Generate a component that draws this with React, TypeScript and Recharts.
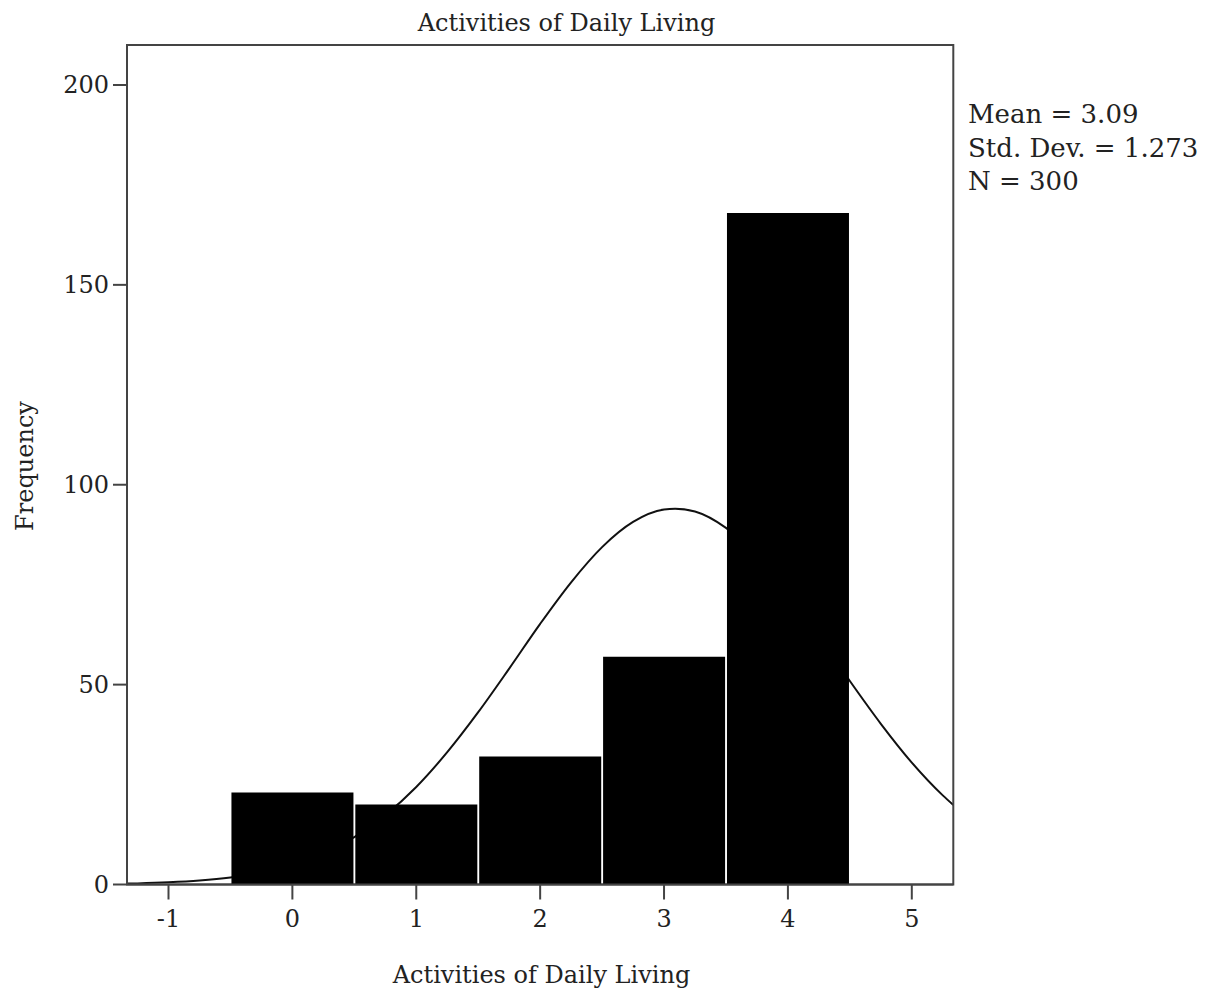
import React from 'react';
import { ComposedChart, Bar, Area, XAxis, YAxis, ReferenceArea } from 'recharts';

const binCenters = [0, 1, 2, 3, 4];
const frequencies = [23, 20, 32, 57, 168];

const curveX = [-1.335, -1.25, -1, -0.75, -0.5, -0.25, 0, 0.25, 0.5, 0.75, 1, 1.25, 1.5, 1.75, 2, 2.25, 2.5, 2.75, 3, 3.09, 3.25, 3.5, 3.75, 4, 4.25, 4.5, 4.75, 5, 5.25, 5.335];
const curveY = [0.22, 0.28, 0.54, 0.99, 1.76, 3.01, 4.94, 7.8, 11.86, 17.35, 24.4, 33.1, 43.1, 54.0, 65.2, 75.6, 84.4, 90.7, 93.8, 94.0, 93.3, 89.2, 82.2, 72.8, 62.1, 50.9, 40.2, 30.5, 22.3, 19.9];

const xTicks = [-1, 0, 1, 2, 3, 4, 5];
const yTicks = [0, 50, 100, 150, 200];
const statLines = ['Mean = 3.09', 'Std. Dev. = 1.273', 'N = 300'];
const titleText = 'Activities of Daily Living';
const xLabel = 'Activities of Daily Living';
const yLabel = 'Frequency';

const X_MIN = -1.335;
const X_MAX = 5.335;
const Y_MAX = 210;

const barData = binCenters.map((x, i) => ({ x, freq: frequencies[i] }));
const curveData = curveX.map((x, i) => ({ x, curve: curveY[i] }));

const FONT = '"DejaVu Serif", "Liberation Serif", serif';
const AXIS = '#444';
const TEXT = '#222';

export default function App() {
  const W = 1220;
  const H = 996;
  return (
    <div style={{ position: 'relative', left: -8, top: -8, width: W, height: H, background: '#fff' }}>
      <ComposedChart
        width={W}
        height={H}
        data={barData}
        margin={{ top: 45, right: 266.7, bottom: 51.5, left: 27 }}
      >
        <XAxis
          dataKey="x"
          type="number"
          domain={[X_MIN, X_MAX]}
          allowDataOverflow
          ticks={xTicks}
          tickFormatter={(v: number) => String(v)}
          height={60}
          tickSize={15}
          tickMargin={10}
          axisLine={{ stroke: AXIS, strokeWidth: 2 }}
          tickLine={{ stroke: AXIS, strokeWidth: 2 }}
          tick={{ fill: TEXT, fontSize: 24, fontFamily: FONT }}
          interval={0}
        />
        <XAxis
          xAxisId="curve"
          dataKey="x"
          type="number"
          domain={[X_MIN, X_MAX]}
          allowDataOverflow
          hide
        />
        <YAxis
          type="number"
          domain={[0, Y_MAX]}
          allowDataOverflow
          ticks={yTicks}
          width={100}
          tickSize={14}
          tickMargin={4}
          axisLine={{ stroke: AXIS, strokeWidth: 2 }}
          tickLine={{ stroke: AXIS, strokeWidth: 2 }}
          tick={{ fill: TEXT, fontSize: 24, fontFamily: FONT }}
          interval={0}
        />
        <Area
          xAxisId="curve"
          data={curveData}
          dataKey="curve"
          type="monotone"
          stroke="#111"
          strokeWidth={2}
          fill="none"
          dot={false}
          activeDot={false}
          isAnimationActive={false}
        />
        <Bar dataKey="freq" fill="#000" barSize={122} isAnimationActive={false} />
        <ReferenceArea
          x1={X_MIN}
          x2={X_MAX}
          y1={0}
          y2={Y_MAX}
          fill="none"
          fillOpacity={0}
          stroke={AXIS}
          strokeWidth={2}
        />
      </ComposedChart>
      <svg
        width={W}
        height={H}
        style={{ position: 'absolute', left: 0, top: 0, pointerEvents: 'none' }}
      >
        <text x={566.5} y={30.5} textAnchor="middle" fontSize={24} fontFamily={FONT} fill={TEXT}>
          {titleText}
        </text>
        <text x={541.5} y={983} textAnchor="middle" fontSize={24} fontFamily={FONT} fill={TEXT}>
          {xLabel}
        </text>
        <text
          x={33}
          y={466}
          textAnchor="middle"
          fontSize={24}
          fontFamily={FONT}
          fill={TEXT}
          transform="rotate(-90 33 466)"
        >
          {yLabel}
        </text>
        {statLines.map((s, i) => (
          <text key={s} x={968} y={123 + i * 33.5} fontSize={26} fontFamily={FONT} fill={TEXT}>
            {s}
          </text>
        ))}
      </svg>
    </div>
  );
}
